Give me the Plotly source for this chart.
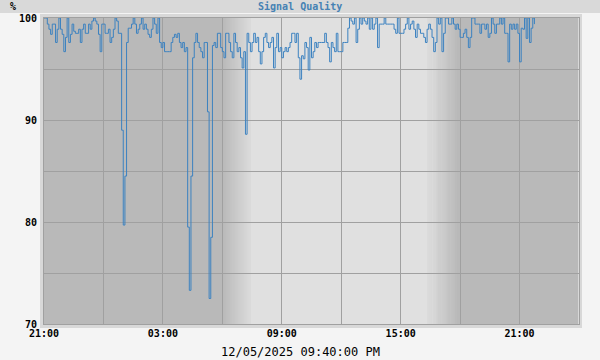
import numpy as np
import pandas as pd
import plotly.graph_objects as go

# ---------------- data ----------------
start_time = "2025-12-04 21:00"
step_minutes = 5
quality = [
    100, 100, 99.4, 98.9, 98.4, 99.4, 99.4, 97.6, 98.9, 100,
    98.9, 98.4, 96.7, 98.1, 100, 97.6, 98.4, 99.4, 98.7, 98.5,
    98.5, 98.9, 97.6, 98.9, 99.4, 98.5, 98.5, 99.4, 98.9, 99.7,
    100, 99.7, 99.4, 98.4, 96.7, 99.4, 99.4, 98.5, 98.5, 98.9,
    97.6, 98.1, 98.9, 100, 99.7, 98.5, 98.5, 89.0, 79.7, 84.5,
    97.6, 99.0, 99.0, 99.4, 100, 99.4, 98.5, 98.9, 99.4, 100,
    98.9, 99.4, 98.9, 98.4, 98.1, 98.9, 100, 99.4, 98.5, 100,
    97.6, 97.1, 97.6, 96.7, 96.7, 96.7, 96.7, 97.6, 98.1, 98.4,
    98.1, 98.5, 97.6, 97.1, 97.6, 96.7, 97.1, 79.5, 73.3, 84.5,
    96.1, 97.6, 98.5, 97.6, 97.1, 96.7, 96.1, 97.6, 97.6, 90.8,
    72.5, 78.5, 97.3, 97.6, 97.1, 98.5, 98.5, 97.1, 96.7, 96.1,
    98.5, 98.5, 97.6, 96.7, 96.1, 98.5, 97.6, 96.7, 97.1, 96.1,
    95.1, 96.7, 88.6, 98.5, 97.6, 96.7, 97.6, 98.5, 97.6, 98.1,
    96.7, 95.5, 96.7, 98.1, 98.5, 97.6, 97.1, 97.6, 98.1, 95.1,
    97.1, 98.5, 96.7, 97.1, 96.1, 96.7, 97.1, 96.7, 97.1, 97.6,
    98.5, 98.5, 97.6, 98.5, 96.1, 94.0, 96.3, 96.0, 97.6, 97.1,
    94.9, 98.1, 96.1, 96.7, 97.6, 97.1, 97.6, 97.6, 97.6, 97.6,
    98.5, 97.6, 97.1, 95.7, 97.6, 97.1, 96.7, 98.5, 96.7, 96.7,
    96.7, 97.6, 97.6, 97.6, 99.0, 100, 99.7, 99.4, 100, 97.6,
    98.9, 100, 99.4, 100, 99.7, 99.4, 100, 98.9, 100, 98.9,
    99.4, 100, 97.1, 99.4, 99.4, 99.4, 100, 99.4, 99.4, 99.4,
    99.4, 99.4, 98.9, 98.5, 100, 98.5, 98.5, 98.5, 98.9, 99.4,
    100, 98.9, 99.4, 99.7, 98.9, 98.1, 99.4, 98.9, 98.5, 98.5,
    98.1, 97.6, 98.9, 99.4, 98.9, 98.1, 96.7, 97.6, 100, 99.4,
    100, 96.7, 98.5, 100, 100, 99.4, 99.4, 100, 99.4, 98.9,
    99.4, 98.9, 98.1, 98.1, 98.5, 98.9, 98.1, 97.1, 98.1, 100,
    100, 99.4, 99.4, 99.4, 98.5, 99.4, 99.4, 98.9, 99.4, 98.1,
    98.5, 100, 99.4, 98.5, 99.4, 99.4, 100, 99.4, 100, 98.5,
    98.5, 95.7, 99.4, 98.9, 99.4, 98.9, 99.4, 98.5, 95.7, 99.0,
    98.9, 100, 98.0, 100, 97.6, 99.0, 100, 99.4,
]
x_range = ["2025-12-04 21:00", "2025-12-06 00:00"]
y_range = [70, 100]
dawn = ["2025-12-05 06:00", "2025-12-05 07:25"]
dusk = ["2025-12-05 16:20", "2025-12-05 17:55"]
title_text = "Signal Quality"
unit_text = "%"
timestamp_text = "12/05/2025 09:40:00 PM"

times = pd.date_range(start_time, periods=len(quality), freq=f"{step_minutes}min")

# ---------------- style ----------------
W, H = 600, 360
ML, MR, MT, MB = 44, 21, 18, 36
PW, PH = W - ML - MR, H - MT - MB
NIGHT = np.array([185, 185, 185])
DAY = np.array([224, 224, 224])
GRID = "#a0a0a0"
MONO = "DejaVu Sans Mono"


def px(xp):
    return (xp - ML) / PW


def py(yp):
    return (H - MB - yp) / PH


def rgb(c):
    c = np.clip(np.round(c), 0, 255).astype(int)
    return f"rgb({c[0]},{c[1]},{c[2]})"


shapes = []
# title bar
shapes.append(dict(type="rect", xref="paper", yref="paper", x0=px(0), x1=px(W),
                   y0=py(13), y1=py(0), fillcolor="#d9d9d9", line_width=0, layer="below"))
# frame around plot area
shapes.append(dict(type="rect", xref="paper", yref="paper", x0=px(42), x1=px(580),
                   y0=py(326), y1=py(16), fillcolor="rgba(0,0,0,0)",
                   line=dict(color="#d8d8d8", width=4), layer="below"))
# daylight
shapes.append(dict(type="rect", xref="x", yref="paper", x0=dawn[1], x1=dusk[0],
                   y0=0, y1=1, fillcolor=rgb(DAY), line_width=0, layer="below"))


def gradient(t0, t1, c0, c1, n=28):
    t0, t1 = pd.Timestamp(t0), pd.Timestamp(t1)
    edges = [t0 + (t1 - t0) * k / n for k in range(n + 1)]
    for k in range(n):
        f = (k + 0.5) / n
        col = c0 + (c1 - c0) * f
        shapes.append(dict(type="rect", xref="x", yref="paper",
                           x0=edges[k], x1=edges[k + 1] + (t1 - t0) / n * 0.3,
                           y0=0, y1=1, fillcolor=rgb(col), line_width=0, layer="below"))


gradient(dawn[0], dawn[1], NIGHT, DAY)
gradient(dusk[0], dusk[1], DAY, NIGHT)

fig = go.Figure()
fig.add_trace(go.Scatter(x=times, y=quality, mode="lines",
                         line=dict(color="#3c82c0", width=1, shape="hv"),
                         hoverinfo="skip", showlegend=False))

tickfont = dict(family=MONO, size=10, color="#000000", weight="bold")
fig.update_layout(
    width=W, height=H,
    margin=dict(l=ML, r=MR, t=MT, b=MB, pad=0),
    paper_bgcolor="#f4f4f4",
    plot_bgcolor=rgb(NIGHT),
    shapes=shapes,
    showlegend=False,
    xaxis=dict(type="date", range=x_range, tick0=x_range[0], dtick=6 * 3600 * 1000,
               tickformat="%H:%M", showgrid=True, gridcolor=GRID, gridwidth=1,
               minor=dict(dtick=3 * 3600 * 1000, tick0=x_range[0], showgrid=True,
                          gridcolor=GRID, gridwidth=1),
               showline=True, linecolor=GRID, linewidth=1, mirror=True,
               ticks="", zeroline=False, tickfont=tickfont, fixedrange=True),
    yaxis=dict(range=y_range, tick0=70, dtick=10, showgrid=True, gridcolor=GRID,
               gridwidth=1,
               minor=dict(dtick=5, tick0=70, showgrid=True, gridcolor=GRID, gridwidth=1),
               showline=True, linecolor=GRID, linewidth=1, mirror=True,
               ticks="", zeroline=False, tickfont=tickfont, fixedrange=True,
               ticklabelstandoff=4),
    annotations=[
        dict(text=title_text, xref="paper", yref="paper", x=px(300), y=py(6.5),
             xanchor="center", yanchor="middle", showarrow=False,
             font=dict(family=MONO, size=10, color="#4682b4", weight="bold")),
        dict(text=unit_text, xref="paper", yref="paper", x=px(13), y=py(6.5),
             xanchor="center", yanchor="middle", showarrow=False,
             font=dict(family=MONO, size=10, color="#000000", weight="bold")),
        dict(text=timestamp_text, xref="paper", yref="paper", x=px(300), y=py(352),
             xanchor="center", yanchor="middle", showarrow=False,
             font=dict(family=MONO, size=12, color="#000000")),
    ],
)

fig.write_html("out.html", config=dict(displayModeBar=False))
